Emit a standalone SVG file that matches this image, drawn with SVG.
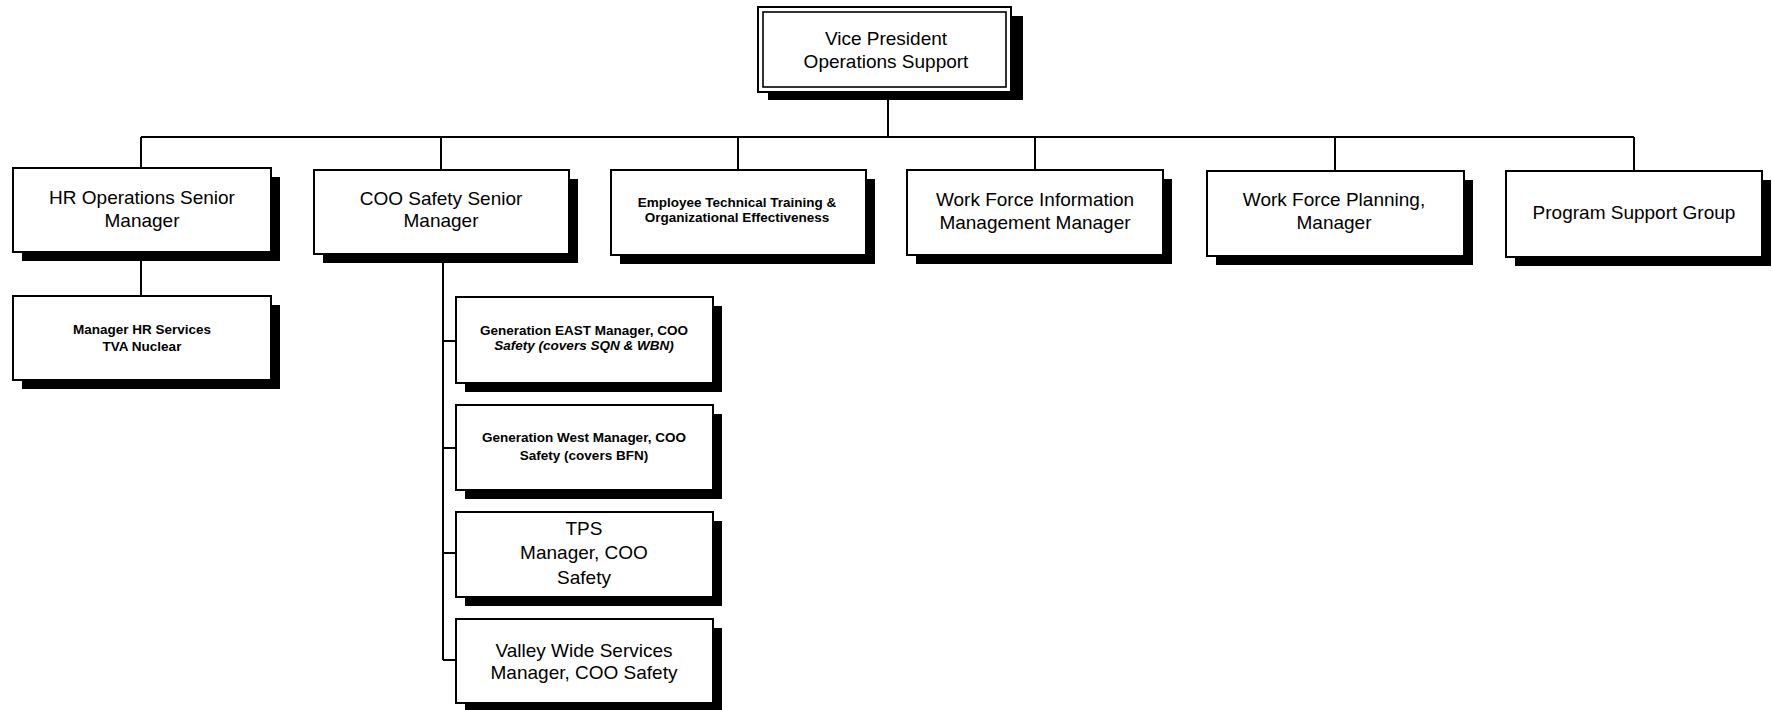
<svg xmlns="http://www.w3.org/2000/svg" width="1772" height="710" viewBox="0 0 1772 710">
  <style>
    .shadow { fill: #000; }
    .box { fill: #fff; stroke: #000; stroke-width: 2; }
    .inner { fill: none; stroke: #000; stroke-width: 1.6; }
    .lbl { font-family: "Liberation Sans", Arial, sans-serif; font-size: 19px; fill: #000; text-anchor: middle; }
    .sm { font-family: "Liberation Sans", Arial, sans-serif; font-size: 13.5px; font-weight: bold; fill: #000; text-anchor: middle; }
    .it { font-style: italic; }
    .conn { fill: none; stroke: #000; stroke-width: 2; }
  </style>

  <rect width="1772" height="710" fill="#fff"/>

  <!-- reporting lines -->
  <g id="connectors">
    <path class="conn" d="M888 99 V137"/>
    <path class="conn" d="M141 137 H1634"/>
    <path class="conn" d="M141 137 V168"/>
    <path class="conn" d="M441 137 V170"/>
    <path class="conn" d="M738 137 V170"/>
    <path class="conn" d="M1035 137 V170"/>
    <path class="conn" d="M1335 137 V171"/>
    <path class="conn" d="M1634 137 V171"/>
    <path class="conn" d="M141 261 V296"/>
    <path class="conn" d="M443 263 V660"/>
    <path class="conn" d="M443 341 H456"/>
    <path class="conn" d="M443 448 H456"/>
    <path class="conn" d="M443 553 H456"/>
    <path class="conn" d="M443 660 H456"/>
  </g>

  <!-- top executive box with double border -->
  <g id="vp">
    <rect class="shadow" x="768" y="16" width="255" height="84"/>
    <rect class="box" x="758" y="7" width="253" height="85"/>
    <rect class="inner" x="763" y="12" width="243" height="75"/>
    <text class="lbl" x="886" y="45">Vice President</text>
    <text class="lbl" x="886" y="68">Operations Support</text>
  </g>

  <g id="hr-ops">
    <rect class="shadow" x="22" y="177" width="258" height="84"/>
    <rect class="box" x="13" y="168" width="258" height="84"/>
    <text class="lbl" x="142" y="204">HR Operations Senior</text>
    <text class="lbl" x="142" y="227">Manager</text>
  </g>

  <g id="coo-safety">
    <rect class="shadow" x="323" y="179" width="255" height="84"/>
    <rect class="box" x="314" y="170" width="255" height="84"/>
    <text class="lbl" x="441" y="205">COO Safety Senior</text>
    <text class="lbl" x="441" y="227">Manager</text>
  </g>

  <g id="training">
    <rect class="shadow" x="620" y="179" width="255" height="85"/>
    <rect class="box" x="611" y="170" width="255" height="85"/>
    <text class="sm" x="737" y="207">Employee Technical Training &amp;</text>
    <text class="sm" x="737" y="222">Organizational Effectiveness</text>
  </g>

  <g id="wf-info">
    <rect class="shadow" x="916" y="179" width="256" height="85"/>
    <rect class="box" x="907" y="170" width="256" height="85"/>
    <text class="lbl" x="1035" y="206">Work Force Information</text>
    <text class="lbl" x="1035" y="229">Management Manager</text>
  </g>

  <g id="wf-planning">
    <rect class="shadow" x="1216" y="180" width="257" height="85"/>
    <rect class="box" x="1207" y="171" width="257" height="85"/>
    <text class="lbl" x="1334" y="206">Work Force Planning,</text>
    <text class="lbl" x="1334" y="229">Manager</text>
  </g>

  <g id="program-support">
    <rect class="shadow" x="1515" y="180" width="256" height="86"/>
    <rect class="box" x="1506" y="171" width="256" height="86"/>
    <text class="lbl" x="1634" y="219">Program Support Group</text>
  </g>

  <g id="hr-services">
    <rect class="shadow" x="22" y="305" width="258" height="84"/>
    <rect class="box" x="13" y="296" width="258" height="84"/>
    <text class="sm" x="142" y="334">Manager HR Services</text>
    <text class="sm" x="142" y="351">TVA Nuclear</text>
  </g>

  <g id="gen-east">
    <rect class="shadow" x="465" y="306" width="257" height="86"/>
    <rect class="box" x="456" y="297" width="257" height="86"/>
    <text class="sm" x="584" y="335">Generation EAST Manager, COO</text>
    <text class="sm it" x="584" y="350">Safety (covers SQN &amp; WBN)</text>
  </g>

  <g id="gen-west">
    <rect class="shadow" x="465" y="414" width="257" height="85"/>
    <rect class="box" x="456" y="405" width="257" height="85"/>
    <text class="sm" x="584" y="442">Generation West Manager, COO</text>
    <text class="sm" x="584" y="460">Safety (covers BFN)</text>
  </g>

  <g id="tps">
    <rect class="shadow" x="465" y="521" width="257" height="85"/>
    <rect class="box" x="456" y="512" width="257" height="85"/>
    <text class="lbl" x="584" y="535">TPS</text>
    <text class="lbl" x="584" y="559">Manager, COO</text>
    <text class="lbl" x="584" y="584">Safety</text>
  </g>

  <g id="valley-wide">
    <rect class="shadow" x="465" y="628" width="257" height="84"/>
    <rect class="box" x="456" y="619" width="257" height="84"/>
    <text class="lbl" x="584" y="657">Valley Wide Services</text>
    <text class="lbl" x="584" y="679">Manager, COO Safety</text>
  </g>
</svg>
